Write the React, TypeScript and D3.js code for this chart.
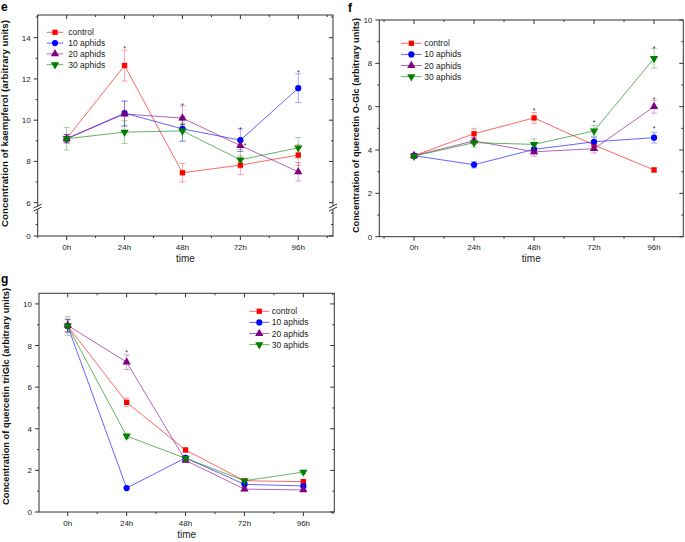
import React from 'react';
import * as d3 from 'd3';

const hours = [0, 24, 48, 72, 96];
const hourLabels = ['0h', '24h', '48h', '72h', '96h'];
const xMinor = [-12, 12, 36, 60, 84, 108];
const seriesNames = ['control', '10 aphids', '20 aphids', '30 aphids'];
const seriesColors = ['#ff0000', '#0000ff', '#800080', '#008000'];

// panel e: kaempferol
const kaempferolMean = [
  [9.11, 12.65, 7.45, 7.82, 8.31],
  [9.1, 10.34, 9.58, 9.03, 11.55],
  [9.1, 10.3, 10.1, 8.77, 7.5],
  [9.1, 9.42, 9.48, 8.08, 8.66],
];
const kaempferolErr = [
  [0.2, 0.75, 0.45, 0.45, 0.5],
  [0.2, 0.6, 0.6, 0.55, 0.7],
  [0.2, 0.6, 0.6, 0.2, 0.45],
  [0.55, 0.55, 0.5, 0.4, 0.5],
];
const kaempferolStars = [
  { t: 24, v: 13.56, s: '*' },
  { t: 48, v: 10.82, s: '*' },
  { t: 48, v: 9.82, s: '**' },
  { t: 72, v: 9.66, s: '*' },
  { t: 74, v: 8.85, s: '*' },
  { t: 96, v: 12.4, s: '*' },
];
const kaempferolTicks = [0, 6, 8, 10, 12, 14];
const kaempferolMinor = [1, 2, 7, 9, 11, 13, 15];

// panel f: quercetin O-Glc
const oglcMean = [
  [3.74, 4.75, 5.48, 4.23, 3.08],
  [3.74, 3.32, 4.03, 4.38, 4.57],
  [3.74, 4.42, 3.92, 4.06, 6.0],
  [3.72, 4.34, 4.26, 4.88, 8.23],
];
const oglcErr = [
  [0.1, 0.25, 0.25, 0.2, 0.1],
  [0.1, 0.15, 0.2, 0.2, 0.25],
  [0.1, 0.15, 0.2, 0.2, 0.3],
  [0.1, 0.2, 0.25, 0.25, 0.45],
];
const oglcStars = [
  { t: 48, v: 5.92, s: '*' },
  { t: 72, v: 5.34, s: '*' },
  { t: 96, v: 8.8, s: '*' },
  { t: 96, v: 6.43, s: '*' },
  { t: 96, v: 5.1, s: '*' },
];
const oglcTicks = [0, 2, 4, 6, 8, 10];
const oglcMinor = [1, 3, 5, 7, 9];

// panel g: quercetin triGlc
const triglcMean = [
  [8.94, 5.27, 2.98, 1.5, 1.46],
  [8.94, 1.15, 2.6, 1.33, 1.25],
  [8.97, 7.2, 2.48, 1.1, 1.06],
  [8.94, 3.65, 2.58, 1.5, 1.92],
];
const triglcErr = [
  [0.3, 0.2, 0.1, 0.08, 0.08],
  [0.3, 0.08, 0.1, 0.08, 0.08],
  [0.3, 0.35, 0.1, 0.08, 0.08],
  [0.45, 0.12, 0.1, 0.08, 0.08],
];
const triglcStars = [{ t: 24, v: 7.74, s: '*' }];
const triglcTicks = [0, 2, 4, 6, 8, 10];
const triglcMinor = [1, 3, 5, 7, 9];

const font = "Arial, 'Liberation Sans', sans-serif";
const axisColor = '#333';

const symbolPath = (i: number) => {
  const types = [d3.symbolSquare, d3.symbolCircle, d3.symbolTriangle, d3.symbolTriangle];
  const sizes = [28, 30, 30, 30];
  return d3.symbol().type(types[i]).size(sizes[i])() as string;
};

function Marker({ i, x, y }: { i: number; x: number; y: number }) {
  return (
    <path
      d={symbolPath(i)}
      transform={`translate(${x},${y})${i === 3 ? ' rotate(180)' : ''}`}
      fill={seriesColors[i]}
    />
  );
}

function Panel(p: any) {
  const x = d3.scaleLinear().domain(p.xDomain).range([p.left, p.right]);
  const y = d3.scaleLinear().domain(p.yDomain).range(p.yRange);
  const top = p.top, bottom = p.bottom, left = p.left, right = p.right;
  const line = d3
    .line<number>()
    .x((_, j) => x(hours[j]))
    .y((d) => y(d));
  const inX = (v: number) => v >= p.xDomain[0] && v <= p.xDomain[p.xDomain.length - 1];

  return (
    <g>
      {/* series */}
      {p.means.map((vals: number[], i: number) => (
        <g key={'s' + i}>
          <path d={line(vals) as string} fill="none" stroke={seriesColors[i]} strokeOpacity={0.6} strokeWidth={1} />
          {vals.map((v, j) => {
            const e = p.errs[i][j];
            const cx = x(hours[j]);
            return (
              <g key={j} stroke={seriesColors[i]} strokeOpacity={0.35} strokeWidth={1}>
                <line x1={cx} x2={cx} y1={y(v - e)} y2={y(v + e)} />
                <line x1={cx - 3} x2={cx + 3} y1={y(v - e)} y2={y(v - e)} />
                <line x1={cx - 3} x2={cx + 3} y1={y(v + e)} y2={y(v + e)} />
              </g>
            );
          })}
        </g>
      ))}
      {p.means.map((vals: number[], i: number) => (
        <g key={'m' + i}>
          {vals.map((v, j) => (
            <Marker key={j} i={i} x={x(hours[j])} y={y(v)} />
          ))}
        </g>
      ))}
      {/* asterisks */}
      {p.stars.map((s: any, k: number) => (
        <text key={'a' + k} x={x(s.t)} y={y(s.v) + 4.5} textAnchor="middle" fontSize={7} fontFamily={font} fill="#333">
          {s.s}
        </text>
      ))}
      {/* frame */}
      <rect x={left} y={top} width={right - left} height={bottom - top} fill="none" stroke={axisColor} strokeWidth={1} />
      {/* x ticks */}
      {hours.map((h, j) => (
        <g key={'xt' + j} stroke={axisColor}>
          <line x1={x(h)} x2={x(h)} y1={bottom} y2={bottom + 4} />
          <line x1={x(h)} x2={x(h)} y1={top} y2={top + 4} />
        </g>
      ))}
      {xMinor.filter(inX).map((h, j) => (
        <g key={'xm' + j} stroke={axisColor}>
          <line x1={x(h)} x2={x(h)} y1={bottom} y2={bottom + 2} />
          <line x1={x(h)} x2={x(h)} y1={top} y2={top + 2} />
        </g>
      ))}
      {hours.map((h, j) => (
        <text key={'xl' + j} x={x(h)} y={p.xLabelY} textAnchor="middle" fontSize={8} fontFamily={font} fill="#222">
          {hourLabels[j]}
        </text>
      ))}
      <text x={(left + right) / 2} y={p.timeY} textAnchor="middle" fontSize={10} fontFamily={font} fill="#222">
        time
      </text>
      {/* y ticks */}
      {p.yTicks.map((v: number, j: number) => (
        <g key={'yt' + j}>
          <line x1={left - 4} x2={left} y1={y(v)} y2={y(v)} stroke={axisColor} />
          <line x1={right - 4} x2={right} y1={y(v)} y2={y(v)} stroke={axisColor} />
          <text x={left - 7} y={y(v) + 3} textAnchor="end" fontSize={8} fontFamily={font} fill="#222">
            {v}
          </text>
        </g>
      ))}
      {p.yMinor.filter((v: number) => y(v) >= top).map((v: number, j: number) => (
        <g key={'ym' + j} stroke={axisColor}>
          <line x1={left - 2} x2={left} y1={y(v)} y2={y(v)} />
          <line x1={right - 2} x2={right} y1={y(v)} y2={y(v)} />
        </g>
      ))}
      {/* axis break */}
      {p.breakY != null &&
        [left, right].map((bx, k) => (
          <g key={'br' + k}>
            <rect x={bx - 2} y={p.breakY - 1.5} width={4} height={3} fill="#fff" />
            <line x1={bx - 4} y1={p.breakY + 0.5} x2={bx + 4} y2={p.breakY - 3.5} stroke={axisColor} />
            <line x1={bx - 4} y1={p.breakY + 3.5} x2={bx + 4} y2={p.breakY - 0.5} stroke={axisColor} />
          </g>
        ))}
      {/* y label */}
      <text
        transform={`translate(${p.yLabelX},${p.yLabelY}) rotate(-90)`}
        textAnchor="middle"
        fontSize={9}
        fontWeight="bold"
        fontFamily={font}
        fill="#111"
        textLength={p.yLabelLen}
        lengthAdjust="spacingAndGlyphs"
      >
        {p.yLabel}
      </text>
      {/* panel letter */}
      <text x={p.letterX} y={p.letterY} fontSize={12} fontWeight="bold" fontFamily={font} fill="#000">
        {p.letter}
      </text>
      {/* legend */}
      {seriesNames.map((name, i) => {
        const ly = p.legend.y + i * p.legend.dy;
        return (
          <g key={'lg' + i}>
            <line x1={p.legend.x1} x2={p.legend.x2} y1={ly} y2={ly} stroke={seriesColors[i]} strokeOpacity={0.6} />
            <Marker i={i} x={(p.legend.x1 + p.legend.x2) / 2} y={ly} />
            <text x={p.legend.tx} y={ly + 3} fontSize={8.5} fontFamily={font} fill="#222">
              {name}
            </text>
          </g>
        );
      })}
    </g>
  );
}

export default function App() {
  return (
    <svg width={685} height={542} style={{ position: 'absolute', left: 0, top: 0, background: '#fff' }}>
      <Panel
        letter="e" letterX={1} letterY={11}
        left={37.7} right={333} top={15} bottom={236}
        xDomain={[-12, 110.4]}
        yDomain={[0, 2.4, 5.8, 15.1]} yRange={[236, 208.5, 206.8, 15]}
        yTicks={kaempferolTicks} yMinor={kaempferolMinor}
        breakY={207.5}
        means={kaempferolMean} errs={kaempferolErr} stars={kaempferolStars}
        xLabelY={250} timeY={262}
        yLabel="Concentration of kaempferol (arbitrary units)" yLabelX={8} yLabelY={123.5} yLabelLen={207}
        legend={{ x1: 46.7, x2: 63.3, tx: 68.3, y: 32.3, dy: 10.8 }}
      />
      <Panel
        letter="f" letterX={348} letterY={11.5}
        left={379.3} right={683.3} top={20} bottom={236.7}
        xDomain={[-13.9, 107.7]}
        yDomain={[0, 10]} yRange={[236.7, 20]}
        yTicks={oglcTicks} yMinor={oglcMinor}
        means={oglcMean} errs={oglcErr} stars={oglcStars}
        xLabelY={250} timeY={262}
        yLabel="Concentration of quercetin O-Glc (arbitrary units)" yLabelX={359} yLabelY={125.5} yLabelLen={215}
        legend={{ x1: 401, x2: 421.7, tx: 424.3, y: 43.3, dy: 11.1 }}
      />
      <Panel
        letter="g" letterX={1} letterY={283}
        left={39} right={334.3} top={293.3} bottom={512}
        xDomain={[-11.7, 108.6]}
        yDomain={[0, 10.51]} yRange={[512, 293.3]}
        yTicks={triglcTicks} yMinor={triglcMinor}
        means={triglcMean} errs={triglcErr} stars={triglcStars}
        xLabelY={526} timeY={538}
        yLabel="Concentration of quercetin triGlc (arbitrary units)" yLabelX={8.5} yLabelY={396.5} yLabelLen={217}
        legend={{ x1: 249.3, x2: 269.3, tx: 271.7, y: 311.3, dy: 11.1 }}
      />
    </svg>
  );
}
